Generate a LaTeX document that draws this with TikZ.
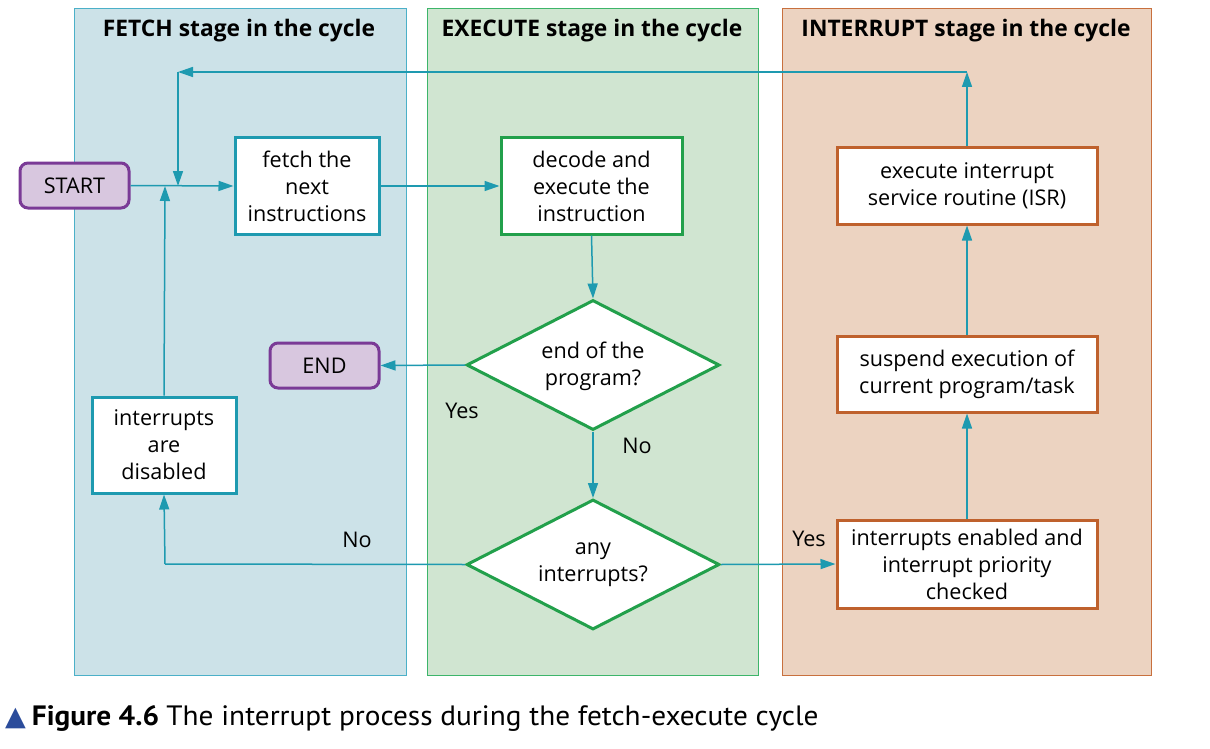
\documentclass[tikz,border=0pt]{standalone}
\usepackage{fontspec}
\setmainfont{Open Sans}
\newfontfamily\capfont{PT Sans}
\newfontfamily\symfont{DejaVu Sans}
\usetikzlibrary{shapes.geometric,arrows.meta}
\definecolor{teal}{HTML}{1E9AB0}
\definecolor{fetchfill}{HTML}{CCE2E8}
\definecolor{fetchline}{HTML}{4BB0C8}
\definecolor{exefill}{HTML}{D0E5D1}
\definecolor{exeline}{HTML}{3DB56A}
\definecolor{grn}{HTML}{22A04B}
\definecolor{intfill}{HTML}{ECD3C1}
\definecolor{intline}{HTML}{C8703E}
\definecolor{org}{HTML}{BF612D}
\definecolor{purp}{HTML}{7A3A96}
\definecolor{lav}{HTML}{D8C7DF}
\definecolor{capblue}{HTML}{2B4C9B}
\begin{document}
\begin{tikzpicture}[x=1pt,y=-1pt,
  body/.style={font=\fontsize{21.6}{27}\selectfont, align=center, inner sep=0pt},
  panel/.style={draw, line width=1.2pt, minimum width=#1, minimum height=667pt, inner sep=0pt, anchor=north west},
  title/.style={font=\fontsize{22.8}{26}\selectfont\bfseries},
  fbox/.style={body, draw=teal, fill=white, line width=3pt},
  gbox/.style={body, draw=grn, fill=white, line width=3pt},
  obox/.style={body, draw=org, fill=white, line width=3pt, minimum width=260pt},
  term/.style={body, draw=purp, fill=lav, line width=3pt, rounded corners=8pt, minimum width=109pt, minimum height=45pt},
  dec/.style={diamond, draw=grn, fill=white, line width=3pt, minimum width=253pt, minimum height=130pt, inner sep=0pt},
  conn/.style={draw=teal, line width=1.5pt, -{Triangle[length=15pt,width=10pt]}},
  line/.style={draw=teal, line width=1.5pt},
  lbl/.style={font=\fontsize{21.6}{27}\selectfont, inner sep=0pt}
]
\useasboundingbox (0,0) rectangle (1210,749);
% panels
\node[panel=332pt, draw=fetchline, fill=fetchfill] (pf) at (74,8) {};
\node[panel=331pt, draw=exeline, fill=exefill] (pe) at (427,8) {};
\node[panel=369pt, draw=intline, fill=intfill] (pi) at (782,8) {};
\node[title] (tf) at (239,31) {FETCH stage in the cycle};
\node[title] (te) at (592,31) {EXECUTE stage in the cycle};
\node[title] (ti) at (966,31) {INTERRUPT stage in the cycle};
% nodes
\node[term] (start) at (74.5,185.5) {START};
\node[fbox, minimum width=144pt, minimum height=96pt] (fetch) at (307,186) {fetch the\\next\\instructions};
\node[gbox, minimum width=181pt, minimum height=96pt] (decode) at (591.5,186) {decode and\\execute the\\instruction};
\node[dec] (d1) at (593,365) {};
\node[body] (d1t) at (593,366) {end of the\\program?};
\node[term] (end) at (324.5,365.5) {END};
\node[fbox, minimum width=144pt, minimum height=96pt] (dis) at (164,445) {interrupts\\are\\disabled};
\node[dec] (d2) at (593,564.5) {};
\node[body] (d2t) at (593,565) {any\\interrupts?};
\node[obox, minimum height=88pt] (en) at (967,564) {interrupts enabled and\\interrupt priority\\checked};
\node[obox, minimum height=76pt] (sus) at (967,374) {suspend execution of\\current program/task};
\node[obox, minimum height=76pt] (isr) at (967,186) {execute interrupt\\service routine (ISR)};
% labels
\node[lbl] (yes1) at (462,411) {Yes};
\node[lbl] (no1) at (637,446) {No};
\node[lbl] (no2) at (357,540) {No};
\node[lbl] (yes2) at (809,539) {Yes};
% coordinates
\coordinate (top1) at (967,72);
\coordinate (top2) at (178,72);
\coordinate (join1) at (178,186);
\coordinate (corner) at (165,564);
\coordinate (join2) at (165,186);
% connectors
\draw[conn] (start.east) -- (fetch.west);
\draw[conn] (fetch.east) -- (decode.west);
\draw[conn] (decode.south) -- (d1.north);
\draw[conn] (d1.west) -- (end.east);
\draw[conn] (d1.south) -- (d2.north);
\draw[line] (d2.west) -- (corner);
\draw[conn] (corner) -- (dis.south);
\draw[conn] (dis.north) -- (join2);
\draw[conn] (d2.east) -- (en.west);
\draw[conn] (en.north) -- (sus.south);
\draw[conn] (sus.north) -- (isr.south);
\draw[conn] (isr.north) -- (top1);
\draw[conn] (top1) -- (top2);
\draw[conn] (top2) -- (join1);
% caption
\node[anchor=west, inner sep=0pt, font=\fontsize{28}{30}\selectfont] (cap) at (5,718)
  {{\symfont\color{capblue}\fontsize{27}{28}\selectfont ▲}\hspace{6pt}\scalebox{1.046}[1]{\capfont\bfseries Figure 4.6} \scalebox{1.046}[1]{\capfont The interrupt process during the fetch-execute cycle}};
\end{tikzpicture}
\end{document}
